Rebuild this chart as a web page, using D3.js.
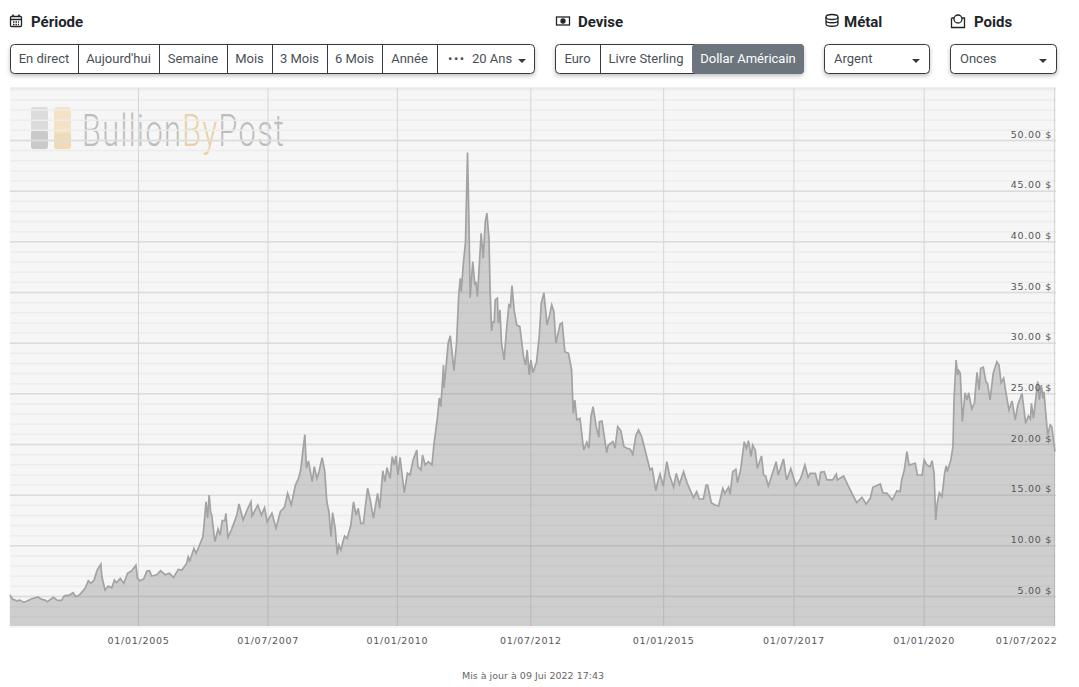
<!DOCTYPE html>
<html>
<head>
<meta charset="utf-8">
<script src="https://cdn.jsdelivr.net/npm/d3@7"></script>
<style>
    html, body { margin: 0; padding: 0; background: #fff; }
    svg { display: block; font-family: Roboto, sans-serif; }
    .axis text { font-family: "DejaVu Sans", sans-serif; font-size: 9.5px; fill: #555; letter-spacing: 0.7px; }
    .axis .domain { display: none; }
    .btn-box { filter: drop-shadow(0 2px 2px rgba(0,0,0,0.25)); }
</style>
</head>
<body>
<div id="chart"></div>
<script>
//Silver price: decimal year and USD per ounce
const years = [
    2002.55,2002.60,2002.68,2002.74,2002.82,2002.88,2002.97,2003.09,2003.16,2003.22,
    2003.27,2003.38,2003.46,2003.54,2003.59,2003.69,2003.76,2003.81,2003.88,2003.99,
    2004.05,2004.10,2004.16,2004.22,2004.29,2004.31,2004.37,2004.43,2004.50,2004.55,
    2004.59,2004.66,2004.73,2004.80,2004.88,2004.96,2004.99,2005.04,2005.11,2005.17,
    2005.22,2005.26,2005.36,2005.43,2005.52,2005.60,2005.68,2005.77,2005.84,2005.93,
    2005.96,2005.99,2006.07,2006.11,2006.17,2006.24,2006.26,2006.30,2006.33,2006.36,
    2006.39,2006.41,2006.47,2006.53,2006.57,2006.61,2006.66,2006.68,2006.72,2006.79,
    2006.89,2006.93,2007.01,2007.09,2007.16,2007.18,2007.29,2007.36,2007.42,2007.47,
    2007.56,2007.64,2007.72,2007.80,2007.86,2007.93,2008.01,2008.07,2008.11,2008.15,
    2008.19,2008.22,2008.26,2008.33,2008.37,2008.42,2008.46,2008.52,2008.57,2008.61,
    2008.65,2008.69,2008.72,2008.77,2008.81,2008.84,2008.88,2008.91,2008.95,2009.00,
    2009.07,2009.12,2009.17,2009.21,2009.26,2009.31,2009.35,2009.39,2009.44,2009.50,
    2009.58,2009.62,2009.68,2009.72,2009.76,2009.82,2009.86,2009.90,2009.93,2009.97,
    2010.01,2010.09,2010.15,2010.20,2010.26,2010.33,2010.35,2010.41,2010.44,2010.49,
    2010.55,2010.62,2010.66,2010.72,2010.76,2010.79,2010.84,2010.85,2010.89,2010.93,
    2010.97,2011.00,2011.04,2011.09,2011.13,2011.16,2011.18,2011.22,2011.26,2011.30,
    2011.33,2011.35,2011.40,2011.44,2011.46,2011.49,2011.56,2011.60,2011.64,2011.67,
    2011.71,2011.73,2011.76,2011.78,2011.81,2011.83,2011.87,2011.89,2011.92,2011.95,
    2012.00,2012.05,2012.09,2012.12,2012.15,2012.19,2012.24,2012.30,2012.37,2012.41,
    2012.44,2012.48,2012.51,2012.55,2012.62,2012.67,2012.71,2012.76,2012.82,2012.87,
    2012.91,2012.95,2012.99,2013.07,2013.11,2013.16,2013.23,2013.29,2013.32,2013.35,
    2013.39,2013.45,2013.52,2013.58,2013.62,2013.66,2013.70,2013.76,2013.81,2013.82,
    2013.87,2013.96,2013.99,2014.08,2014.12,2014.17,2014.23,2014.29,2014.35,2014.41,
    2014.46,2014.52,2014.57,2014.63,2014.69,2014.79,2014.83,2014.90,2014.93,2014.98,
    2015.04,2015.11,2015.16,2015.24,2015.29,2015.35,2015.43,2015.50,2015.62,2015.68,
    2015.73,2015.81,2015.86,2015.89,2015.96,2016.03,2016.10,2016.18,2016.22,2016.29,
    2016.32,2016.37,2016.43,2016.46,2016.52,2016.59,2016.63,2016.67,2016.72,2016.75,
    2016.80,2016.84,2016.92,2016.96,2017.00,2017.05,2017.12,2017.20,2017.24,2017.34,
    2017.40,2017.48,2017.58,2017.67,2017.75,2017.81,2017.85,2017.95,2018.01,2018.05,
    2018.12,2018.17,2018.28,2018.35,2018.37,2018.49,2018.58,2018.74,2018.84,2018.92,
    2019.00,2019.05,2019.19,2019.24,2019.32,2019.42,2019.51,2019.57,2019.60,2019.65,
    2019.70,2019.74,2019.86,2019.90,2019.99,2020.03,2020.08,2020.14,2020.18,2020.22,
    2020.25,2020.28,2020.32,2020.37,2020.42,2020.45,2020.47,2020.54,2020.58,2020.60,
    2020.64,2020.67,2020.69,2020.72,2020.76,2020.81,2020.85,2020.88,2020.94,2020.99,
    2021.04,2021.08,2021.11,2021.16,2021.21,2021.24,2021.29,2021.35,2021.42,2021.46,
    2021.50,2021.55,2021.60,2021.65,2021.71,2021.77,2021.82,2021.90,2021.97,2022.02,
    2022.06,2022.08,2022.12,2022.20,2022.23,2022.27,2022.30,2022.32,2022.39,2022.44,
    2022.47,2022.53
];
const prices = [
    5.09,4.70,4.53,4.60,4.37,4.50,4.73,4.90,4.67,4.60,
    4.43,4.87,4.57,4.57,5.02,5.09,5.32,4.93,5.09,5.76,
    6.51,6.25,6.57,7.56,8.15,6.90,5.59,5.98,5.81,6.57,
    6.31,6.74,6.25,7.24,7.49,8.03,6.74,6.51,6.70,7.46,
    7.49,6.97,7.10,7.49,7.10,7.24,6.84,7.63,7.56,8.22,
    8.87,8.48,9.70,9.21,9.93,10.85,11.84,14.30,12.70,14.97,
    13.19,12.99,10.36,11.61,11.02,12.43,12.43,13.16,10.79,11.58,
    12.99,14.08,12.50,13.55,14.30,12.89,13.98,12.99,13.71,12.33,
    13.16,11.68,13.32,13.75,15.13,13.98,15.95,16.61,17.43,19.24,
    20.92,17.60,18.32,16.28,17.76,16.61,17.27,18.65,17.36,14.30,
    13.32,10.85,13.22,11.68,9.11,10.03,9.54,10.20,10.92,10.69,
    12.00,14.30,12.99,13.65,12.17,12.17,13.98,15.63,14.47,12.67,
    15.13,13.65,17.36,16.28,17.66,16.61,18.75,17.93,18.82,16.94,
    18.69,15.19,17.11,16.94,18.42,19.41,17.76,17.43,18.91,17.93,
    18.25,17.93,20.10,22.37,24.54,23.68,27.80,25.53,27.63,29.94,
    30.69,29.28,27.24,29.97,34.54,36.36,35.04,37.84,39.84,48.76,
    41.13,34.44,38.00,35.70,36.02,34.54,40.80,38.33,41.95,42.78,
    40.31,35.53,31.16,32.02,32.02,34.22,34.39,31.92,33.23,29.94,
    28.29,31.58,33.72,33.55,35.63,33.23,31.75,31.58,28.62,27.80,
    29.28,26.81,28.29,27.04,28.12,30.59,33.89,34.94,31.75,32.74,
    33.72,33.06,29.94,31.85,31.98,29.11,28.95,27.31,23.03,24.34,
    22.37,22.54,19.41,20.17,19.58,22.70,23.68,21.71,20.66,22.20,
    22.27,19.14,19.90,20.23,19.58,21.71,21.31,19.73,19.58,19.48,
    18.98,20.89,21.38,20.72,19.48,17.43,17.60,15.39,16.12,17.04,
    15.85,18.25,16.94,15.73,17.11,16.02,17.27,16.12,14.70,15.29,
    14.57,14.57,15.95,15.95,14.21,13.98,13.88,15.63,15.13,15.73,
    15.06,17.27,17.50,16.18,17.43,20.23,19.58,20.33,18.75,19.90,
    19.41,17.60,18.82,16.94,16.84,15.85,16.94,18.25,16.94,18.52,
    16.45,17.56,15.88,16.61,17.93,16.71,17.11,17.11,15.85,17.21,
    17.27,16.45,16.45,17.04,16.45,16.84,15.85,14.21,14.74,14.08,
    14.64,15.73,16.05,15.19,15.13,14.47,15.39,15.29,16.45,17.43,
    19.24,17.93,18.10,16.94,16.94,18.42,17.93,17.76,18.35,17.11,
    12.50,14.15,15.19,14.80,17.11,17.83,17.27,18.42,19.73,24.34,
    28.29,26.81,27.24,26.98,22.20,25.06,24.34,25.06,23.46,24.02,
    27.08,25.33,27.47,27.57,26.15,25.99,24.34,26.98,28.12,27.80,
    26.05,26.49,24.84,23.36,24.25,22.37,23.85,25.01,22.04,22.76,
    22.47,24.02,22.54,26.15,24.34,25.82,24.51,25.16,20.89,21.87,
    21.71,19.24
];

//The reference's date axis is not quite even, so ticks sit where its gridlines are
const xTickYears = [2005.00, 2007.477, 2009.95, 2012.50, 2015.04, 2017.53, 2020.02, 2022.51];
const xTickLabels = ["01/01/2005", "01/07/2007", "01/01/2010", "01/07/2012", "01/01/2015", "01/07/2017", "01/01/2020", "01/07/2022"];
const yMajorTicks = [5, 10, 15, 20, 25, 30, 35, 40, 45, 50];
const yMinorTicks = d3.range(3, 56);

const periodLabels = ["En direct", "Aujourd'hui", "Semaine", "Mois", "3 Mois", "6 Mois", "Année"];
const currencyLabels = ["Euro", "Livre Sterling", "Dollar Américain"];
const headings = ["Période", "Devise", "Métal", "Poids"];
const updatedText = "Mis à jour à 09 Jui 2022 17:43";

let width = 1079, height = 687;
let margin = {left: 10, right: 1056, top: 88, bottom: 626};

let svg = d3.select("#chart").append("svg")
    .attr("width", width)
    .attr("height", height);

let xScale = d3.scaleLinear().domain([2002.553, 2022.55]).range([margin.left, margin.right]);
let yScale = d3.scaleLinear().domain([2.04, 55.13]).range([margin.bottom, margin.top]);

//Plot background
svg.append("rect")
    .attr("x", margin.left).attr("y", margin.top)
    .attr("width", margin.right - margin.left).attr("height", margin.bottom - margin.top + 2)
    .attr("fill", "#f6f6f6");
svg.append("line")
    .attr("x1", margin.left).attr("x2", margin.right)
    .attr("y1", margin.top).attr("y2", margin.top)
    .attr("stroke", "#dedede");

//Watermark
let mark = svg.append("g");
mark.append("rect").attr("x", 31).attr("y", 107).attr("width", 17).attr("height", 42).attr("rx", 3).attr("fill", "#dcdcdc");
mark.append("rect").attr("x", 31).attr("y", 131).attr("width", 17).attr("height", 18).attr("rx", 3).attr("fill", "#c9c9c9");
mark.append("rect").attr("x", 54).attr("y", 107).attr("width", 17).attr("height", 42).attr("rx", 3).attr("fill", "#f3e3c4");
mark.append("rect").attr("x", 54).attr("y", 133).attr("width", 17).attr("height", 16).attr("rx", 3).attr("fill", "#efdcb6");
let markText = mark.append("text")
    .attr("transform", "translate(82,146) scale(0.68,1)")
    .attr("textLength", 297).attr("lengthAdjust", "spacing")
    .style("font-size", "45px")
    .style("font-weight", 300)
    .attr("fill", "#bdbdbd");
markText.append("tspan").text("Bullion");
markText.append("tspan").attr("fill", "#e6d2a4").text("By");
markText.append("tspan").text("Post");

//Horizontal grid, 1 dollar and 5 dollar steps
let minorGrid = svg.append("g")
    .attr("class", "axis")
    .attr("transform", "translate(" + margin.left + ",0)")
    .call(d3.axisRight(yScale).tickValues(yMinorTicks).tickSize(margin.right - margin.left).tickFormat(""));
minorGrid.selectAll("line").attr("stroke", "#ececec").attr("stroke-width", 1.5);

let majorGrid = svg.append("g")
    .attr("class", "axis")
    .attr("transform", "translate(" + margin.left + ",0)")
    .call(d3.axisRight(yScale).tickValues(yMajorTicks).tickSize(margin.right - margin.left).tickFormat(""));
majorGrid.selectAll("line").attr("stroke", "#dcdcdc").attr("stroke-width", 1.5);

//Vertical grid and date labels
let xAxis = svg.append("g")
    .attr("class", "axis")
    .attr("transform", "translate(0," + margin.bottom + ")")
    .call(d3.axisBottom(xScale).tickValues(xTickYears).tickSize(margin.top - margin.bottom)
        .tickFormat((d, i) => xTickLabels[i]));
xAxis.selectAll("line").attr("stroke", "#d6d6d6");
xAxis.selectAll("text")
    .attr("y", 15)
    .attr("dy", "0.32em")
    .attr("text-anchor", (d, i) => i == xTickYears.length - 1 ? "end" : "middle")
    .attr("dx", (d, i) => i == xTickYears.length - 1 ? 3 : 0);

//Price area and its line
let area = d3.area()
    .x((d) => xScale(d[0]))
    .y0(margin.bottom)
    .y1((d) => yScale(d[1]));
let line = d3.line()
    .x((d) => xScale(d[0]))
    .y((d) => yScale(d[1]));

let series = d3.zip(years, prices);
svg.append("path").datum(series)
    .attr("d", area)
    .attr("fill", "rgba(120,120,120,0.32)");
svg.append("path").datum(series)
    .attr("d", line)
    .attr("fill", "none")
    .attr("stroke", "#a3a3a3")
    .attr("stroke-width", 1.7);

//Price labels sit over the area
let yAxis = svg.append("g")
    .attr("class", "axis")
    .attr("transform", "translate(" + (margin.right - 4) + ",0)")
    .call(d3.axisLeft(yScale).tickValues(yMajorTicks).tickSize(0)
        .tickFormat((d) => d3.format(".2f")(d) + " $"));
yAxis.selectAll("text").attr("x", 0).attr("dy", "-0.3em");

//Footer
svg.append("text")
    .attr("x", 533).attr("y", 679)
    .attr("text-anchor", "middle")
    .style("font-family", "'DejaVu Sans', sans-serif")
    .style("font-size", "9.5px")
    .attr("fill", "#666")
    .text(updatedText);

//Section headings
svg.selectAll(".heading")
    .data(headings)
    .enter().append("text")
    .attr("class", "heading")
    .attr("x", (d, i) => [31, 578, 844, 974][i])
    .attr("y", 27)
    .style("font-size", "15px")
    .style("font-weight", 700)
    .attr("fill", "#212529")
    .text((d) => d);

//Small heading icons
let icons = svg.append("g").attr("fill", "none").attr("stroke", "#212529").attr("stroke-width", 1.3);
icons.append("rect").attr("x", 10.5).attr("y", 16.5).attr("width", 11).attr("height", 10).attr("rx", 1);
icons.append("path").attr("d", "M10.5 19.5H21.5M13 14.5V17M19 14.5V17").attr("stroke-width", 1.6);
icons.append("path").attr("d", "M13 22H19M13 24.5H19").attr("stroke-dasharray", "1.5 1");
icons.append("rect").attr("x", 556.5).attr("y", 17).attr("width", 13).attr("height", 8);
icons.append("circle").attr("cx", 563).attr("cy", 21).attr("r", 2).attr("fill", "#212529");
icons.append("ellipse").attr("cx", 832).attr("cy", 17).attr("rx", 6).attr("ry", 2.5);
icons.append("path").attr("d", "M826 17V24C826 27 838 27 838 24V17M826 20.5C826 23.5 838 23.5 838 20.5");
icons.append("path").attr("d", "M951.5 18H954M962 18H964.5V27.5H951.5V18");
icons.append("circle").attr("cx", 958).attr("cy", 19).attr("r", 4);

//Button groups, drawn from their labels and edges
function buttonGroup(labels, edges, activeIndex)
{
    let top = 44, h = 30;
    let g = svg.append("g");

    g.append("rect")
        .attr("class", "btn-box")
        .attr("x", edges[0] + 0.5).attr("y", top + 0.5)
        .attr("width", edges[edges.length - 1] - edges[0] - 1).attr("height", h - 1)
        .attr("rx", 4)
        .attr("fill", "#fff")
        .attr("stroke", "#343a40");

    labels.forEach((label, i) => {
        if(i == activeIndex)
        {
            g.append("rect")
                .attr("x", edges[i]).attr("y", top)
                .attr("width", edges[i + 1] - edges[i]).attr("height", h)
                .attr("rx", 4)
                .attr("fill", "#6c757d");
        }
        if(i > 0 && i != activeIndex)
        {
            g.append("line")
                .attr("x1", edges[i] + 0.5).attr("x2", edges[i] + 0.5)
                .attr("y1", top).attr("y2", top + h)
                .attr("stroke", "#343a40");
        }
        g.append("text")
            .attr("x", (edges[i] + edges[i + 1]) / 2)
            .attr("y", top + 19)
            .attr("text-anchor", "middle")
            .style("font-size", "13px")
            .attr("fill", i == activeIndex ? "#fff" : "#495057")
            .text(label);
    });
    return g;
}

function caret(cx)
{
    svg.append("path")
        .attr("d", "M" + (cx - 4) + " 59L" + (cx + 4) + " 59L" + cx + " 63Z")
        .attr("fill", "#343a40");
}

function dropdown(label, x0, x1)
{
    buttonGroup([""], [x0, x1], -1);
    svg.append("text")
        .attr("x", x0 + 10).attr("y", 63)
        .style("font-size", "13px")
        .attr("fill", "#495057")
        .text(label);
    caret(x1 - 14);
}

buttonGroup(periodLabels.concat([""]), [10, 78, 159, 227, 272, 327, 382, 437, 535], -1);
svg.append("text").attr("x", 448).attr("y", 63)
    .style("font-size", "13px").attr("fill", "#495057").attr("letter-spacing", "1.5px").text("•••");
svg.append("text").attr("x", 472).attr("y", 63)
    .style("font-size", "13px").attr("fill", "#495057").text("20 Ans");
caret(522);

buttonGroup(currencyLabels, [555, 600, 692, 804], 2);
dropdown("Argent", 824, 930);
dropdown("Onces", 950, 1057);
</script>
</body>
</html>
